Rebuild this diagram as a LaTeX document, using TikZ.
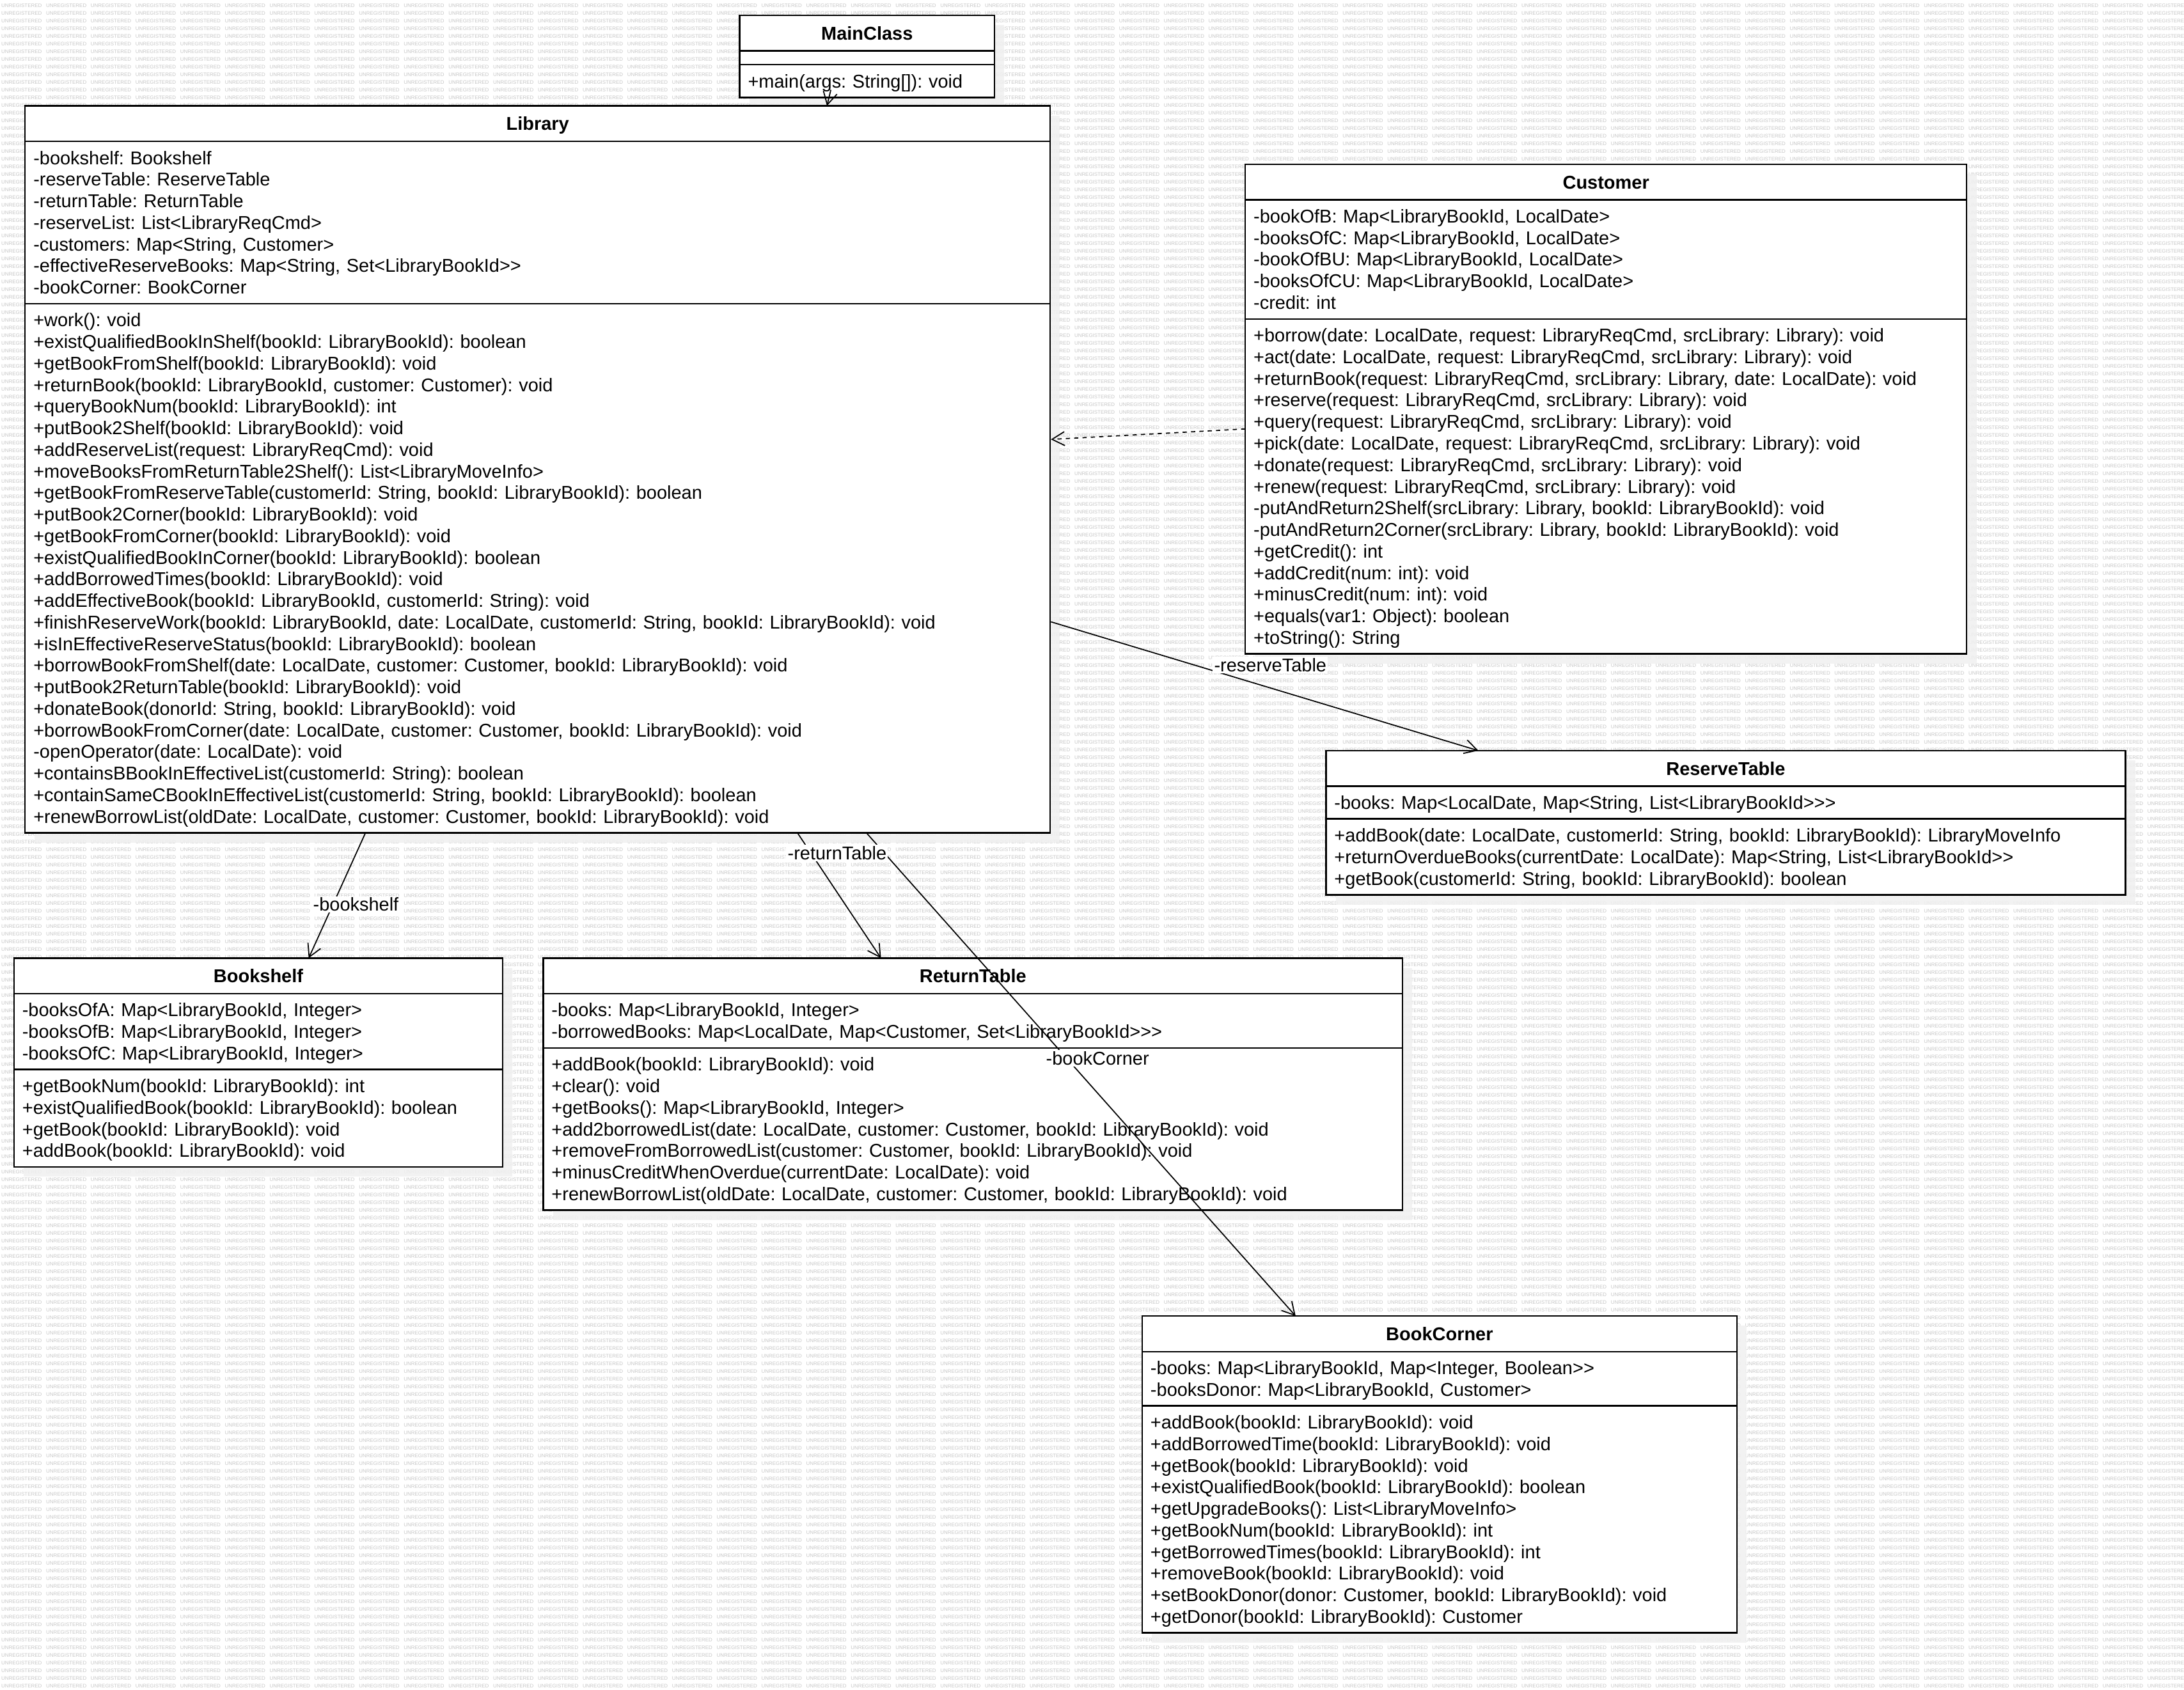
\documentclass[tikz,border=0pt]{standalone}
\usepackage{fontspec}
\setmainfont{Liberation Sans}
\frenchspacing
\usetikzlibrary{positioning,calc,arrows.meta}
\pgfdeclarelayer{watermark}
\pgfdeclarelayer{shadow}
\pgfsetlayers{watermark,shadow,main}
\newcommand\mstrut{\rule[-3pt]{0pt}{15.5pt}}
\newcommand\wmword{\makebox[32.1pt][l]{UNREGISTERED}}
\newcommand\wmten{\wmword\wmword\wmword\wmword\wmword\wmword\wmword\wmword\wmword\wmword}
\tikzset{
  box/.style={draw, fill=white, line width=1.1pt, outer sep=0pt},
  classtitle/.style={box, anchor=north west, inner sep=0pt, minimum height=25.5pt,
    text height=9.5pt, text depth=0pt, font=\bfseries\fontsize{13.3}{15.5}\selectfont},
  members/.style={box, inner xsep=6pt, inner ysep=4pt, align=left,
    font=\fontsize{13.3}{15.5}\selectfont,
    execute at begin node=\mstrut, execute at end node=\mstrut},
  assoc/.style={line width=0.8pt, -{Straight Barb[length=9pt,width=10pt]}},
  depend/.style={assoc, dash pattern=on 3pt off 3pt},
  role/.style={fill=white, inner sep=1pt, font=\fontsize{13.3}{15}\selectfont},
  wm/.style={anchor=west, inner sep=0pt, text=black!22, font=\fontsize{3.65}{4}\selectfont},
  classshadow/.style={fill=black!6, fill opacity=0.85}
}
\begin{document}
\begin{tikzpicture}[x=1pt,y=-1pt]
  \useasboundingbox (0,0) rectangle (1568,1213.5);
  \begin{pgfonlayer}{watermark}
    \fill[white] (0,0) rectangle (1568,1213.5);
    \begin{scope}
      \clip (0,0) rectangle (1568,1213.5);
      \foreach \r in {0,...,220}
        \node[wm] (wm\r) at (0.8,4+5.51*\r) {\wmten\wmten\wmten\wmten\wmten};
    \end{scope}
  \end{pgfonlayer}

  % MainClass
  \node[classtitle, minimum width=183pt] (main-title) at (531,11) {MainClass};
  \node[box, minimum width=183pt, minimum height=10pt, inner sep=0pt, below=0pt of main-title] (main-attr) {};
  \node[members, text width=171pt, below=0pt of main-attr] (main-meth) {+main(args: String[]): void};

  % Library
  \node[classtitle, minimum width=736pt] (lib-title) at (18,76) {Library};
  \node[members, text width=724pt, below=0pt of lib-title] (lib-attr) {-bookshelf: Bookshelf\\
    -reserveTable: ReserveTable\\
    -returnTable: ReturnTable\\
    -reserveList: List<LibraryReqCmd>\\
    -customers: Map<String, Customer>\\
    -effectiveReserveBooks: Map<String, Set<LibraryBookId>{}>\\
    -bookCorner: BookCorner};
  \node[members, text width=724pt, below=0pt of lib-attr] (lib-meth) {+work(): void\\
    +existQualifiedBookInShelf(bookId: LibraryBookId): boolean\\
    +getBookFromShelf(bookId: LibraryBookId): void\\
    +returnBook(bookId: LibraryBookId, customer: Customer): void\\
    +queryBookNum(bookId: LibraryBookId): int\\
    +putBook2Shelf(bookId: LibraryBookId): void\\
    +addReserveList(request: LibraryReqCmd): void\\
    +moveBooksFromReturnTable2Shelf(): List<LibraryMoveInfo>\\
    +getBookFromReserveTable(customerId: String, bookId: LibraryBookId): boolean\\
    +putBook2Corner(bookId: LibraryBookId): void\\
    +getBookFromCorner(bookId: LibraryBookId): void\\
    +existQualifiedBookInCorner(bookId: LibraryBookId): boolean\\
    +addBorrowedTimes(bookId: LibraryBookId): void\\
    +addEffectiveBook(bookId: LibraryBookId, customerId: String): void\\
    +finishReserveWork(bookId: LibraryBookId, date: LocalDate, customerId: String, bookId: LibraryBookId): void\\
    +isInEffectiveReserveStatus(bookId: LibraryBookId): boolean\\
    +borrowBookFromShelf(date: LocalDate, customer: Customer, bookId: LibraryBookId): void\\
    +putBook2ReturnTable(bookId: LibraryBookId): void\\
    +donateBook(donorId: String, bookId: LibraryBookId): void\\
    +borrowBookFromCorner(date: LocalDate, customer: Customer, bookId: LibraryBookId): void\\
    -openOperator(date: LocalDate): void\\
    +containsBBookInEffectiveList(customerId: String): boolean\\
    +containSameCBookInEffectiveList(customerId: String, bookId: LibraryBookId): boolean\\
    +renewBorrowList(oldDate: LocalDate, customer: Customer, bookId: LibraryBookId): void};

  % Customer
  \node[classtitle, minimum width=518pt] (cust-title) at (894,118) {Customer};
  \node[members, text width=506pt, below=0pt of cust-title] (cust-attr) {-bookOfB: Map<LibraryBookId, LocalDate>\\
    -booksOfC: Map<LibraryBookId, LocalDate>\\
    -bookOfBU: Map<LibraryBookId, LocalDate>\\
    -booksOfCU: Map<LibraryBookId, LocalDate>\\
    -credit: int};
  \node[members, text width=506pt, below=0pt of cust-attr] (cust-meth) {+borrow(date: LocalDate, request: LibraryReqCmd, srcLibrary: Library): void\\
    +act(date: LocalDate, request: LibraryReqCmd, srcLibrary: Library): void\\
    +returnBook(request: LibraryReqCmd, srcLibrary: Library, date: LocalDate): void\\
    +reserve(request: LibraryReqCmd, srcLibrary: Library): void\\
    +query(request: LibraryReqCmd, srcLibrary: Library): void\\
    +pick(date: LocalDate, request: LibraryReqCmd, srcLibrary: Library): void\\
    +donate(request: LibraryReqCmd, srcLibrary: Library): void\\
    +renew(request: LibraryReqCmd, srcLibrary: Library): void\\
    -putAndReturn2Shelf(srcLibrary: Library, bookId: LibraryBookId): void\\
    -putAndReturn2Corner(srcLibrary: Library, bookId: LibraryBookId): void\\
    +getCredit(): int\\
    +addCredit(num: int): void\\
    +minusCredit(num: int): void\\
    +equals(var1: Object): boolean\\
    +toString(): String};

  % ReserveTable
  \node[classtitle, minimum width=574pt] (resv-title) at (952,539) {ReserveTable};
  \node[members, text width=562pt, below=0pt of resv-title] (resv-attr) {-books: Map<LocalDate, Map<String, List<LibraryBookId>{}>{}>};
  \node[members, text width=562pt, below=0pt of resv-attr] (resv-meth) {+addBook(date: LocalDate, customerId: String, bookId: LibraryBookId): LibraryMoveInfo\\
    +returnOverdueBooks(currentDate: LocalDate): Map<String, List<LibraryBookId>{}>\\
    +getBook(customerId: String, bookId: LibraryBookId): boolean};

  % Bookshelf
  \node[classtitle, minimum width=351pt] (shelf-title) at (10,688) {Bookshelf};
  \node[members, text width=339pt, below=0pt of shelf-title] (shelf-attr) {-booksOfA: Map<LibraryBookId, Integer>\\
    -booksOfB: Map<LibraryBookId, Integer>\\
    -booksOfC: Map<LibraryBookId, Integer>};
  \node[members, text width=339pt, below=0pt of shelf-attr] (shelf-meth) {+getBookNum(bookId: LibraryBookId): int\\
    +existQualifiedBook(bookId: LibraryBookId): boolean\\
    +getBook(bookId: LibraryBookId): void\\
    +addBook(bookId: LibraryBookId): void};

  % ReturnTable
  \node[classtitle, minimum width=617pt] (ret-title) at (390,688) {ReturnTable};
  \node[members, text width=605pt, below=0pt of ret-title] (ret-attr) {-books: Map<LibraryBookId, Integer>\\
    -borrowedBooks: Map<LocalDate, Map<Customer, Set<LibraryBookId>{}>{}>};
  \node[members, text width=605pt, below=0pt of ret-attr] (ret-meth) {+addBook(bookId: LibraryBookId): void\\
    +clear(): void\\
    +getBooks(): Map<LibraryBookId, Integer>\\
    +add2borrowedList(date: LocalDate, customer: Customer, bookId: LibraryBookId): void\\
    +removeFromBorrowedList(customer: Customer, bookId: LibraryBookId): void\\
    +minusCreditWhenOverdue(currentDate: LocalDate): void\\
    +renewBorrowList(oldDate: LocalDate, customer: Customer, bookId: LibraryBookId): void};

  % BookCorner
  \node[classtitle, minimum width=427pt] (corner-title) at (820,945) {BookCorner};
  \node[members, text width=415pt, below=0pt of corner-title] (corner-attr) {-books: Map<LibraryBookId, Map<Integer, Boolean>{}>\\
    -booksDonor: Map<LibraryBookId, Customer>};
  \node[members, text width=415pt, below=0pt of corner-attr] (corner-meth) {+addBook(bookId: LibraryBookId): void\\
    +addBorrowedTime(bookId: LibraryBookId): void\\
    +getBook(bookId: LibraryBookId): void\\
    +existQualifiedBook(bookId: LibraryBookId): boolean\\
    +getUpgradeBooks(): List<LibraryMoveInfo>\\
    +getBookNum(bookId: LibraryBookId): int\\
    +getBorrowedTimes(bookId: LibraryBookId): int\\
    +removeBook(bookId: LibraryBookId): void\\
    +setBookDonor(donor: Customer, bookId: LibraryBookId): void\\
    +getDonor(bookId: LibraryBookId): Customer};

  % shadows
  \begin{pgfonlayer}{shadow}
    \foreach \c in {main,lib,cust,resv,shelf,ret,corner}
      \fill[classshadow] ($(\c-title.north west)+(7,7)$) rectangle ($(\c-meth.south east)+(7,7)$);
  \end{pgfonlayer}

  % connectors
  \draw[assoc] ($(main-meth.south west)+(65.5,-5.5)$) -- ($(lib-title.north west)+(575.7,0)$);
  \draw[depend] ($(cust-meth.north west)+(0,79)$) -- ($(lib-meth.north east)+(0.5,97.5)$);
  \draw[assoc] ($(lib-meth.north east)+(0.5,228.5)$) -- ($(resv-title.north west)+(109.4,0)$);
  \draw[assoc] ($(lib-meth.south west)+(244.4,0)$) -- ($(shelf-title.north west)+(211.6,0)$);
  \draw[assoc] ($(lib-meth.south west)+(554.5,0)$) -- ($(ret-title.north west)+(242.5,0)$);
  \draw[assoc] ($(lib-meth.south west)+(604,0)$) -- ($(corner-title.north west)+(110.2,0)$);
  \node[role] (resv-role) at (912,477.5) {-reserveTable};
  \node[role] (shelf-role) at (255.5,649.5) {-bookshelf};
  \node[role] (ret-role) at (601,612.5) {-returnTable};
  \node[role] (corner-role) at (788,760) {-bookCorner};
\end{tikzpicture}
\end{document}
